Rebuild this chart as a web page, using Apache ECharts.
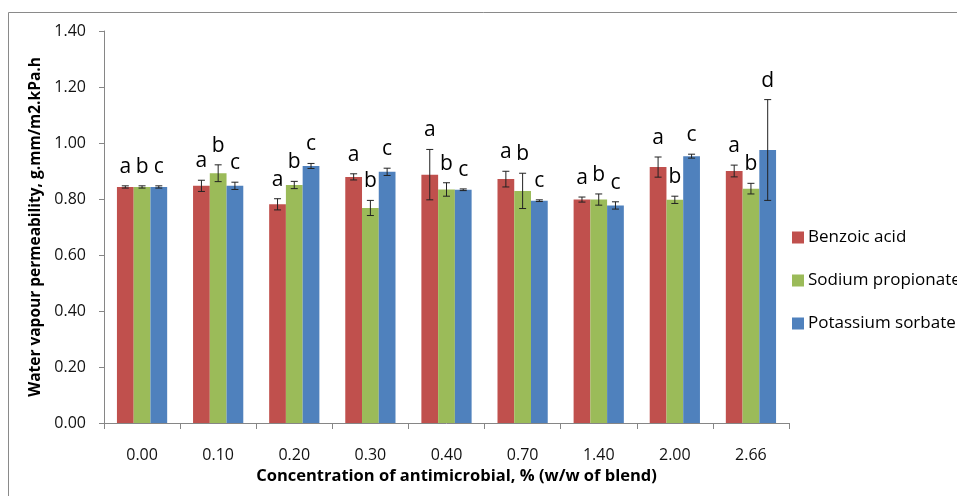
<!DOCTYPE html>
<html>
<head>
<meta charset="utf-8">
<script src="https://cdn.jsdelivr.net/npm/echarts@6/dist/echarts.min.js"></script>
<style>
  html, body { margin: 0; padding: 0; background: #fff; }
  #chart { width: 957px; height: 496px; }
</style>
</head>
<body>
<div id="chart"></div>
<script>
// concentrations on the x axis
var categories = ['0.00', '0.10', '0.20', '0.30', '0.40', '0.70', '1.40', '2.00', '2.66'];
var seriesNames = ['Benzoic acid', 'Sodium propionate', 'Potassium sorbate'];

// mean WVP
var benzoic   = [0.843, 0.847, 0.781, 0.879, 0.887, 0.871, 0.798, 0.914, 0.900];
var sodium    = [0.843, 0.892, 0.850, 0.768, 0.834, 0.829, 0.798, 0.797, 0.837];
var potassium = [0.843, 0.847, 0.918, 0.897, 0.833, 0.794, 0.777, 0.953, 0.975];

// +/- error (standard deviation)
var benzoicErr   = [0.004, 0.020, 0.020, 0.011, 0.090, 0.028, 0.009, 0.036, 0.021];
var sodiumErr    = [0.004, 0.030, 0.013, 0.027, 0.024, 0.063, 0.020, 0.013, 0.019];
var potassiumErr = [0.004, 0.013, 0.009, 0.013, 0.003, 0.003, 0.013, 0.007, 0.180];

// significance letters
var benzoicLetters   = ['a', 'a', 'a', 'a', 'a', 'a', 'a', 'a', 'a'];
var sodiumLetters    = ['b', 'b', 'b', 'b', 'b', 'b', 'b', 'b', 'b'];
var potassiumLetters = ['c', 'c', 'c', 'c', 'c', 'c', 'c', 'c', 'd'];

var colors = ['#C0504D', '#9BBB59', '#4F81BD'];
var FONT = 'Open Sans';
var GAP = 0.34;   // barCategoryGap

function errData(vals, errs, letters){
    var out = [];
    for (var i = 0; i < vals.length; i++) {
        out.push([i, vals[i] - errs[i], vals[i] + errs[i], letters[i]]);
    }
    return out;
}

// error bar + letter drawn for series k (0,1,2) of the group
function makeErrSeries(k, data){
    return {
        type: 'custom',
        name: seriesNames[k] + ' err',
        data: data,
        encode: { x: 0, y: [1, 2] },
        z: 10,
        silent: true,
        renderItem: function(params, api){
            var xi = api.value(0);
            var lo = api.coord([xi, api.value(1)]);
            var hi = api.coord([xi, api.value(2)]);
            var band = api.size([1, 0])[0];
            var barW = band * (1 - GAP) / 3;
            var cx = lo[0] + (k - 1) * barW;
            var cap = 3.5;
            var ls = { stroke: '#222', lineWidth: 1 };
            return {
                type: 'group',
                children: [
                    { type: 'line', shape: { x1: cx, y1: hi[1], x2: cx, y2: lo[1] }, style: ls },
                    { type: 'line', shape: { x1: cx - cap, y1: hi[1], x2: cx + cap, y2: hi[1] }, style: ls },
                    { type: 'line', shape: { x1: cx - cap, y1: lo[1], x2: cx + cap, y2: lo[1] }, style: ls },
                    { type: 'text', x: cx, y: hi[1] - 19,
                      style: { text: api.value(3), fill: '#000', font: '21px "' + FONT + '"',
                               textAlign: 'center', textVerticalAlign: 'middle' } }
                ]
            };
        }
    };
}

var myChart = echarts.init(document.getElementById('chart'));
var option = {
    animation: false,
    backgroundColor: '#fff',
    color: colors,
    textStyle: { fontFamily: FONT },
    graphic: [{
        type: 'rect',
        shape: { x: 8.5, y: 12.5, width: 1000, height: 600 },
        style: { fill: 'none', stroke: '#8a8a8a', lineWidth: 1 },
        silent: true
    }],
    grid: { left: 104, right: 168, top: 31, bottom: 73 },
    legend: {
        orient: 'vertical',
        left: 787,
        top: 224,
        itemWidth: 12,
        itemHeight: 12,
        itemGap: 26,
        icon: 'rect',
        data: seriesNames,
        textStyle: { fontSize: 17, color: '#000', fontFamily: FONT, padding: [0, 0, 0, -1] }
    },
    xAxis: {
        type: 'category',
        data: categories,
        name: 'Concentration of antimicrobial, % (w/w of blend)',
        nameLocation: 'middle',
        nameGap: 45,
        nameTextStyle: { fontSize: 16.5, fontWeight: 'bold', color: '#000', padding: [0, 0, 0, 20] },
        axisLine: { lineStyle: { color: '#868686' } },
        axisTick: { show: true, length: 6, lineStyle: { color: '#868686' } },
        axisLabel: { fontSize: 16, color: '#111', margin: 24 }
    },
    yAxis: {
        type: 'value',
        min: 0,
        max: 1.4,
        interval: 0.2,
        name: 'Water vapour permeability, g.mm/m2.kPa.h',
        nameLocation: 'middle',
        nameGap: 59,
        nameTextStyle: { fontSize: 15.5, fontWeight: 'bold', color: '#000' },
        axisLine: { show: true, lineStyle: { color: '#868686' } },
        axisTick: { show: true, length: 5, lineStyle: { color: '#868686' } },
        splitLine: { show: false },
        axisLabel: {
            fontSize: 16, color: '#111', margin: 18,
            formatter: function(v){ return v.toFixed(2); }
        }
    },
    series: [
        { name: seriesNames[0], type: 'bar', data: benzoic, barGap: '0%', barCategoryGap: (GAP * 100) + '%' },
        { name: seriesNames[1], type: 'bar', data: sodium, barGap: '0%', barCategoryGap: (GAP * 100) + '%' },
        { name: seriesNames[2], type: 'bar', data: potassium, barGap: '0%', barCategoryGap: (GAP * 100) + '%' },
        makeErrSeries(0, errData(benzoic, benzoicErr, benzoicLetters)),
        makeErrSeries(1, errData(sodium, sodiumErr, sodiumLetters)),
        makeErrSeries(2, errData(potassium, potassiumErr, potassiumLetters))
    ]
};
myChart.setOption(option);
</script>
</body>
</html>
